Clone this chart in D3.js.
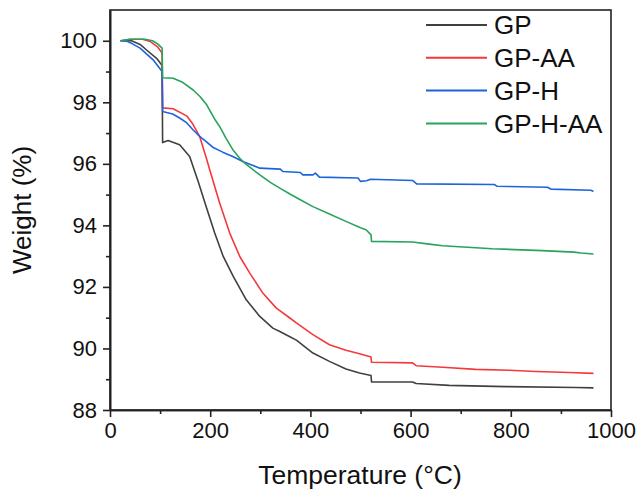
<!DOCTYPE html>
<html>
<head>
<meta charset="utf-8">
<script src="https://cdn.jsdelivr.net/npm/d3@7"></script>
<style>
  body { margin: 0; background: #fff; }
  svg { font-family: "Liberation Sans", Arial, sans-serif; }
</style>
</head>
<body>
<svg></svg>
<script>
// TGA curves, [temperature °C, weight %]
const gp = [[21,100.0],[43,100.0],[60,99.88],[73,99.70],[93,99.43],[104,99.2],[105,96.69],[116,96.76],[139,96.62],[159,96.24],[176,95.43],[193,94.56],[209,93.75],[226,92.99],[246,92.34],[272,91.58],[299,91.04],[325,90.66],[339,90.55],[359,90.38],[372,90.27],[405,89.85],[438,89.58],[471,89.33],[498,89.20],[521,89.12],[522,88.91],[604,88.91],[611,88.86],[677,88.80],[790,88.76],[930,88.73],[965,88.72]]
const gpAA = [[21,100.0],[40,100.05],[65,100.05],[80,99.98],[95,99.8],[104,99.6],[105,97.82],[126,97.79],[153,97.56],[165,97.3],[179,96.89],[193,96.15],[199,95.81],[219,94.72],[239,93.75],[259,92.99],[279,92.45],[305,91.80],[332,91.31],[359,90.99],[372,90.83],[405,90.45],[438,90.12],[471,89.94],[498,89.83],[521,89.72],[522,89.55],[604,89.53],[611,89.44],[664,89.39],[730,89.32],[797,89.29],[850,89.25],[916,89.22],[965,89.19]]
const gpH = [[21,100.0],[33,99.99],[45,99.9],[60,99.76],[86,99.38],[104,99.0],[105,97.70],[113,97.67],[125,97.62],[139,97.49],[152,97.35],[166,97.10],[179,96.89],[192,96.72],[205,96.54],[225,96.38],[245,96.24],[266,96.07],[299,95.86],[340,95.83],[345,95.75],[380,95.72],[385,95.64],[405,95.64],[410,95.70],[418,95.57],[495,95.54],[500,95.43],[512,95.45],[520,95.50],[604,95.46],[612,95.35],[767,95.33],[773,95.27],[873,95.24],[880,95.18],[960,95.14],[965,95.10]]
const gpHAA = [[21,100.0],[40,100.05],[70,100.05],[85,100.0],[95,99.9],[104,99.76],[105,98.80],[126,98.78],[145,98.65],[166,98.40],[180,98.18],[193,97.92],[209,97.45],[219,97.21],[232,96.82],[246,96.44],[259,96.18],[272,95.98],[299,95.64],[320,95.40],[339,95.21],[359,95.02],[378,94.85],[405,94.61],[438,94.37],[471,94.13],[500,93.92],[511,93.86],[521,93.69],[522,93.48],[604,93.46],[637,93.39],[664,93.34],[763,93.24],[863,93.18],[926,93.13],[940,93.10],[965,93.07]]

const names = ["GP", "GP-AA", "GP-H", "GP-H-AA"]
const colors = ["#404040", "#f5393b", "#1d64dc", "#27a35d"]
const series = [gp, gpAA, gpH, gpHAA]

const xMajor = [0, 200, 400, 600, 800, 1000], xMinor = [100, 300, 500, 700, 900]
const yMajor = [88, 90, 92, 94, 96, 98, 100], yMinor = [89, 91, 93, 95, 97, 99]

const svg = d3.select("svg").attr("width", 638).attr("height", 493),
  margin = {top: 10, right: 27, bottom: 83, left: 110},
  width = 638 - margin.left - margin.right,
  height = 493 - margin.top - margin.bottom,
  chart = svg.append("g").attr("transform", `translate(${margin.left},${margin.top})`)

const x = d3.scaleLinear().domain([0, 1000]).range([0, width]),
      y = d3.scaleLinear().domain([88, 101]).range([height, 0]),
      line = d3.line().x(d => x(d[0])).y(d => y(d[1]))

// data lines
series.forEach((s, i) => {
  chart.append("path").datum(s).attr("d", line)
    .style("fill", "none").style("stroke", colors[i]).style("stroke-width", 1.6).style("stroke-linejoin", "round")
})

// frame
chart.append("rect").attr("width", width).attr("height", height)
  .style("fill", "none").style("stroke", "#222").style("stroke-width", 1.6)

// axes
chart.append("g").attr("transform", `translate(0,${height})`)
  .call(d3.axisBottom(x).tickValues(xMajor).tickFormat(d3.format("d")).tickSize(7).tickPadding(5).tickSizeOuter(0))
chart.append("g").attr("transform", `translate(0,${height})`)
  .call(d3.axisBottom(x).tickValues(xMinor).tickSize(4).tickFormat("").tickSizeOuter(0))
chart.append("g")
  .call(d3.axisLeft(y).tickValues(yMajor).tickFormat(d3.format("d")).tickSize(7).tickPadding(6).tickSizeOuter(0))
chart.append("g")
  .call(d3.axisLeft(y).tickValues(yMinor).tickSize(4).tickFormat("").tickSizeOuter(0))

chart.selectAll(".domain").style("stroke", "#222").style("stroke-width", 1.6)
chart.selectAll(".tick line").style("stroke", "#222").style("stroke-width", 1.6)
chart.selectAll(".tick text").style("font-size", "22px").style("fill", "#111").style("font-family", "Liberation Sans, Arial, sans-serif")

// titles
svg.append("text").text("Temperature (°C)")
  .attr("x", 360).attr("y", 484)
  .style("text-anchor", "middle").style("font-size", "26.5px").style("fill", "#111")
svg.append("text").text("Weight (%)")
  .attr("transform", `translate(31,${margin.top + 200}) rotate(-90)`)
  .style("text-anchor", "middle").style("font-size", "26px").style("fill", "#111")

// legend
const legend = svg.append("g").attr("transform", "translate(426,25)")
names.forEach((n, i) => {
  const row = legend.append("g").attr("transform", `translate(0,${i * 32.8})`)
  row.append("line").attr("x1", 0).attr("x2", 61).attr("y1", 0).attr("y2", 0)
    .style("stroke", colors[i]).style("stroke-width", 2)
  row.append("text").text(n).attr("x", 68).attr("y", 0).attr("dy", "0.36em")
    .style("font-size", "26px").style("fill", "#111")
})
</script>
</body>
</html>
